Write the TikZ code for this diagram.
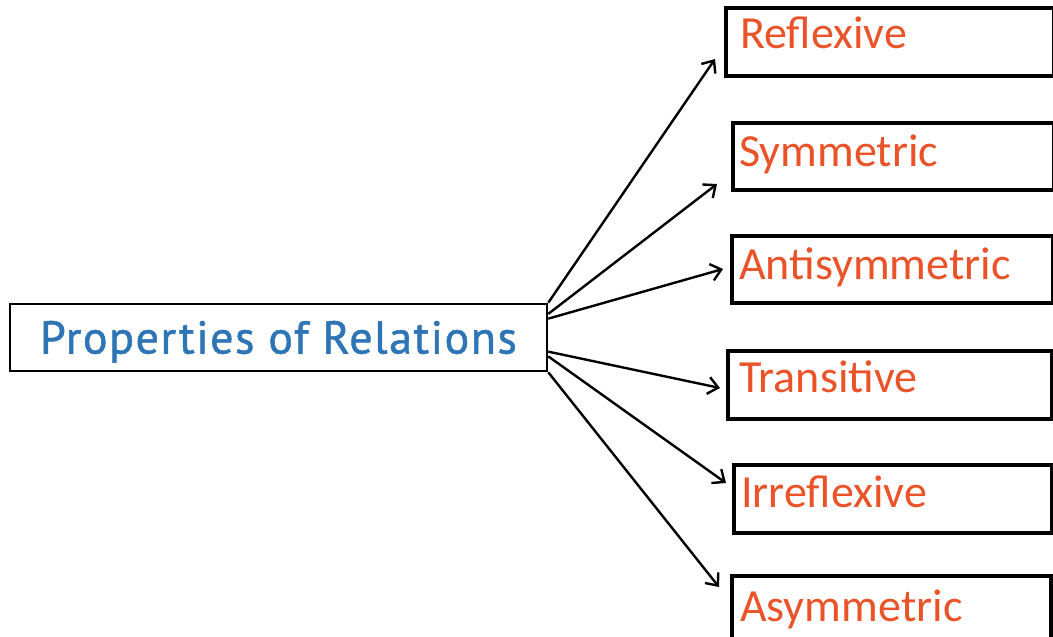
\documentclass[tikz,border=0pt]{standalone}
\usepackage{fontspec}
\newfontfamily\titlefont[FakeBold=1.2, LetterSpace=3.4]{PT Sans}
\newfontfamily\kindfont{Carlito}
\usetikzlibrary{arrows.meta}
\definecolor{titleblue}{RGB}{46,117,182}
\definecolor{kindred}{RGB}{234,82,40}

\begin{document}
\begin{tikzpicture}[x=1pt, y=-1pt,
        kindbox/.style = {draw=black, line width=3.5pt, rectangle, anchor=north west, inner sep=0pt},
        kind/.style = {anchor=base west, inner sep=0pt, text=kindred, font=\kindfont\fontsize{46}{46}\selectfont},
        arr/.style = {black, line width=2.4pt, -{Straight Barb[length=10pt,width=17pt]}}]
        \useasboundingbox (0,0) rectangle (1053,637);

        \node[draw=black, line width=2.5pt, rectangle, minimum width=537pt, minimum height=67pt,
              text height=32pt, text depth=0pt, text=titleblue,
              font=\titlefont\fontsize{46}{46}\selectfont] (props) at (278.5,337.5) {Properties of Relations};

        \node[kindbox, minimum width=328pt, minimum height=68pt] (refl) at (724,6) {};
        \node[kindbox, minimum width=321pt, minimum height=67pt] (symm) at (731,121) {};
        \node[kindbox, minimum width=321pt, minimum height=67pt] (anti) at (730,234) {};
        \node[kindbox, minimum width=324pt, minimum height=68pt] (trans) at (726,349) {};
        \node[kindbox, minimum width=318pt, minimum height=68pt] (irrefl) at (732,463) {};
        \node[kindbox, minimum width=319pt, minimum height=71pt] (asym) at (730,574) {};

        \node[kind] (reflText) at (740,48) {Reflexive};
        \node[kind] (symmText) at (739,166) {Symmetric};
        \node[kind] (antiText) at (739,279) {Antisymmetric};
        \node[kind] (transText) at (739,392) {Transitive};
        \node[kind] (irreflText) at (741,507) {Irreflexive};
        \node[kind] (asymText) at (740,621) {Asymmetric};

        \coordinate (reflTip) at (715,59);
        \coordinate (symmTip) at (717,184);
        \coordinate (antiTip) at (723,269);
        \coordinate (transTip) at (720,388);
        \coordinate (irreflTip) at (726,483);
        \coordinate (asymTip) at (719,587);

        \draw[arr] (props.north east) -- (reflTip);
        \draw[arr] (props.5.2) -- (symmTip);
        \draw[arr] (props.4.6) -- (antiTip);
        \draw[arr] (props.-3.7) -- (transTip);
        \draw[arr] (props.-4.6) -- (irreflTip);
        \draw[arr] (props.south east) -- (asymTip);
    \end{tikzpicture}
\end{document}
